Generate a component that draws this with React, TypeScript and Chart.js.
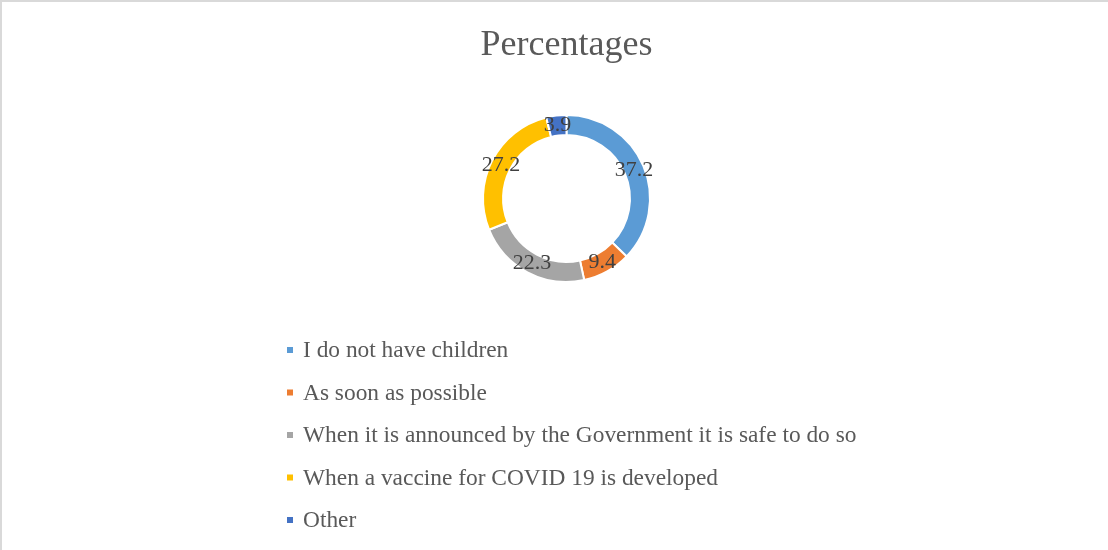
import React, { useEffect, useRef } from "react";
import { Chart, registerables } from "chart.js";

Chart.register(...registerables);

const categories = [
  "I do not have children",
  "As soon as possible",
  "When it is announced by the Government it is safe to do so",
  "When a vaccine for COVID 19 is developed",
  "Other",
];
const values = [37.2, 9.4, 22.3, 27.2, 3.9];
const colors = ["#5B9BD5", "#ED7D31", "#A5A5A5", "#FFC000", "#4472C4"];
const chartTitle = "Percentages";

const FONT = "'Liberation Serif', 'DejaVu Serif', serif";

const backgroundPlugin = {
  id: "bg",
  beforeDraw(chart: any) {
    const { ctx, width, height } = chart;
    ctx.save();
    ctx.fillStyle = "#ffffff";
    ctx.fillRect(0, 0, width, height);
    ctx.fillStyle = "#d9d9d9";
    ctx.fillRect(0, 0, width, 2);
    ctx.fillRect(0, 0, 2, height);
    ctx.restore();
  },
};

const dataLabelPlugin = {
  id: "dataLabels",
  afterDatasetsDraw(chart: any) {
    const { ctx } = chart;
    const meta = chart.getDatasetMeta(0);
    const data = chart.data.datasets[0].data as number[];
    ctx.save();
    ctx.font = `22px ${FONT}`;
    ctx.fillStyle = "#404040";
    ctx.textAlign = "center";
    ctx.textBaseline = "middle";
    meta.data.forEach((arc: any, i: number) => {
      const p = arc.tooltipPosition();
      ctx.fillText(data[i].toFixed(1), p.x, p.y);
    });
    ctx.restore();
  },
};

const legendPlugin = {
  id: "listLegend",
  afterDraw(chart: any) {
    const { ctx } = chart;
    const labels = chart.data.labels as string[];
    const bg = chart.data.datasets[0].backgroundColor as string[];
    const x0 = 287;
    const y0 = 350;
    const step = 42.5;
    ctx.save();
    ctx.font = `23.4px ${FONT}`;
    ctx.textAlign = "left";
    ctx.textBaseline = "middle";
    labels.forEach((lab, i) => {
      const y = y0 + i * step;
      ctx.fillStyle = bg[i];
      ctx.fillRect(x0, y - 3, 6, 6);
      ctx.fillStyle = "#595959";
      ctx.fillText(lab, x0 + 16, y + 1);
    });
    ctx.restore();
  },
};

export default function App() {
  const ref = useRef<HTMLCanvasElement>(null);
  useEffect(() => {
    if (!ref.current) return;
    const chart = new Chart(ref.current, {
      type: "doughnut",
      data: {
        labels: categories,
        datasets: [
          {
            data: values,
            backgroundColor: colors,
            borderColor: "#ffffff",
            borderWidth: 2,
            hoverOffset: 0,
          },
        ],
      },
      options: {
        responsive: false,
        animation: false,
        cutout: "76%",
        layout: { padding: { top: 0, bottom: 267, left: 25, right: 0 } },
        plugins: {
          legend: { display: false },
          tooltip: { enabled: false },
          title: {
            display: true,
            text: chartTitle,
            color: "#595959",
            font: { family: FONT, size: 36, weight: "normal", lineHeight: 1.2 },
            padding: { top: 24.4, bottom: 46.4 },
          },
        },
      },
      plugins: [backgroundPlugin, dataLabelPlugin, legendPlugin],
    });
    return () => chart.destroy();
  }, []);
  return (
    <div style={{ position: "fixed", left: 0, top: 0, width: 1108, height: 550, background: "#fff" }}>
      <canvas ref={ref} width={1108} height={550} style={{ display: "block" }} />
    </div>
  );
}
